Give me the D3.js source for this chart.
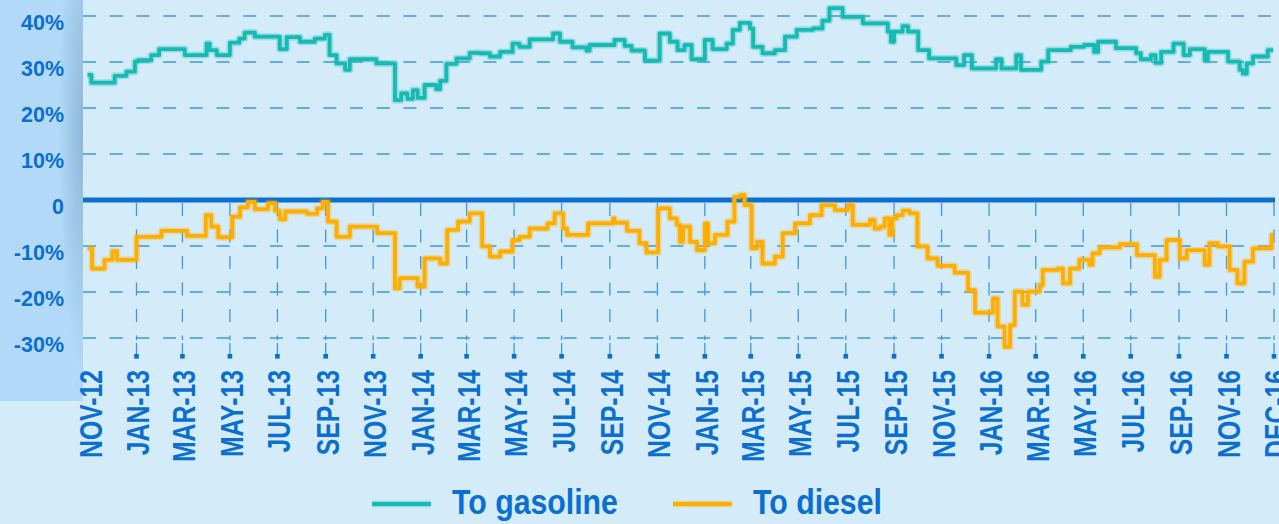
<!DOCTYPE html>
<html>
<head>
<meta charset="utf-8"/>
<script src="https://d3js.org/d3.v7.min.js"></script>
<style>
body { margin: 0; background: #d4ebfa; overflow: hidden; }
text { font-family: "Liberation Sans Narrow", "Liberation Sans", Arial, sans-serif; font-weight: bold; fill: #0a6fd0; }
</style>
</head>
<body>
<div id="v"></div>
<script type="text/javascript">
// ---- data (% spread) ----
var yTicks = [40, 30, 20, 10, 0, -10, -20, -30];
var yTickLabels = ["40%", "30%", "20%", "10%", "0", "-10%", "-20%", "-30%"];

var xTickDates = ["2012-11-01", "2013-01-01", "2013-03-01", "2013-05-01", "2013-07-01", "2013-09-01",
  "2013-11-01", "2014-01-01", "2014-03-01", "2014-05-01", "2014-07-01", "2014-09-01",
  "2014-11-01", "2015-01-01", "2015-03-01", "2015-05-01", "2015-07-01", "2015-09-01",
  "2015-11-01", "2016-01-01", "2016-03-01", "2016-05-01", "2016-07-01", "2016-09-01",
  "2016-11-01", "2017-01-01"];
var xTickLabels = ["NOV-12", "JAN-13", "MAR-13", "MAY-13", "JUL-13", "SEP-13",
  "NOV-13", "JAN-14", "MAR-14", "MAY-14", "JUL-14", "SEP-14",
  "NOV-14", "JAN-15", "MAR-15", "MAY-15", "JUL-15", "SEP-15",
  "NOV-15", "JAN-16", "MAR-16", "MAY-16", "JUL-16", "SEP-16",
  "NOV-16", "DEC-16"];

var seriesNames = ["To gasoline", "To diesel"];
var seriesColors = ["#17bab3", "#ffae00"];

var gasoline = [
  ["2012-10-30", 27.2], ["2012-11-04", 25.5], ["2012-12-04", 27.0], ["2012-12-19", 27.9],
  ["2012-12-30", 30.1], ["2013-01-03", 30.4], ["2013-01-20", 31.5], ["2013-01-30", 32.8],
  ["2013-03-04", 31.5], ["2013-04-01", 34.0], ["2013-04-05", 32.6], ["2013-04-14", 31.5],
  ["2013-05-01", 34.2], ["2013-05-13", 35.1], ["2013-05-20", 36.4], ["2013-06-02", 35.5],
  ["2013-07-04", 32.8], ["2013-07-13", 35.4], ["2013-07-30", 34.4], ["2013-08-18", 35.1],
  ["2013-08-31", 35.9], ["2013-09-06", 31.5], ["2013-09-15", 29.7], ["2013-09-26", 28.3],
  ["2013-10-02", 30.6], ["2013-11-05", 29.7], ["2013-11-29", 21.7], ["2013-12-07", 23.2],
  ["2013-12-15", 22.0], ["2013-12-22", 23.9], ["2013-12-28", 22.2], ["2014-01-06", 25.0],
  ["2014-01-21", 24.1], ["2014-01-26", 25.9], ["2014-02-03", 29.6], ["2014-02-16", 30.8],
  ["2014-03-05", 32.0], ["2014-03-18", 31.9], ["2014-03-31", 31.2], ["2014-04-13", 32.2],
  ["2014-04-29", 34.0], ["2014-05-08", 33.3], ["2014-05-21", 34.9], ["2014-06-20", 36.2],
  ["2014-06-29", 34.4], ["2014-07-15", 33.2], ["2014-08-02", 32.5], ["2014-08-06", 33.7],
  ["2014-09-07", 34.8], ["2014-09-20", 33.5], ["2014-09-29", 32.5], ["2014-10-16", 30.3],
  ["2014-11-04", 36.2], ["2014-11-17", 34.4], ["2014-11-27", 32.6], ["2014-12-06", 33.7],
  ["2014-12-15", 30.6], ["2015-01-01", 34.8], ["2015-01-11", 32.8], ["2015-01-29", 34.0],
  ["2015-02-06", 37.0], ["2015-02-15", 38.5], ["2015-02-28", 37.3], ["2015-03-04", 33.3],
  ["2015-03-16", 31.9], ["2015-04-01", 32.6], ["2015-04-14", 35.5], ["2015-04-29", 37.0],
  ["2015-05-20", 37.3], ["2015-06-01", 39.0], ["2015-06-10", 41.7], ["2015-06-27", 39.8],
  ["2015-07-23", 38.4], ["2015-08-24", 36.6], ["2015-08-28", 34.4], ["2015-09-01", 36.6],
  ["2015-09-12", 37.8], ["2015-09-19", 36.6], ["2015-10-02", 32.6], ["2015-10-16", 30.8],
  ["2015-11-20", 29.3], ["2015-11-30", 31.5], ["2015-12-10", 28.6], ["2016-01-10", 30.6],
  ["2016-01-17", 28.6], ["2016-02-05", 31.5], ["2016-02-11", 28.3], ["2016-03-08", 30.1],
  ["2016-03-17", 32.6], ["2016-04-15", 33.3], ["2016-05-02", 33.7], ["2016-05-15", 32.2],
  ["2016-05-20", 34.4], ["2016-06-12", 33.0], ["2016-07-08", 31.9], ["2016-07-14", 30.6],
  ["2016-07-27", 31.5], ["2016-08-02", 29.8], ["2016-08-09", 32.2], ["2016-08-25", 34.0],
  ["2016-09-07", 31.5], ["2016-09-15", 32.8], ["2016-10-04", 30.4], ["2016-10-08", 32.2],
  ["2016-11-03", 30.1], ["2016-11-18", 28.3], ["2016-11-22", 27.5], ["2016-11-27", 29.7],
  ["2016-12-05", 31.2], ["2016-12-24", 32.6], ["2016-12-31", 32.6]
];

var diesel = [
  ["2012-10-30", -10.5], ["2012-11-05", -14.9], ["2012-11-21", -13.0], ["2012-12-01", -11.1],
  ["2012-12-07", -13.0], ["2013-01-01", -8.0], ["2013-02-02", -6.7], ["2013-03-07", -7.8],
  ["2013-03-31", -3.3], ["2013-04-07", -5.8], ["2013-04-16", -8.1], ["2013-05-04", -3.6],
  ["2013-05-14", -1.6], ["2013-05-24", -0.4], ["2013-06-02", -2.0], ["2013-06-19", -0.7],
  ["2013-06-28", -2.3], ["2013-07-04", -4.2], ["2013-07-11", -2.5], ["2013-08-08", -3.0],
  ["2013-08-21", -1.8], ["2013-08-28", -0.4], ["2013-09-04", -4.7], ["2013-09-15", -8.0],
  ["2013-10-02", -5.8], ["2013-11-06", -7.2], ["2013-11-29", -19.2], ["2013-12-05", -17.0],
  ["2013-12-28", -18.8], ["2014-01-06", -12.7], ["2014-01-26", -13.8], ["2014-02-04", -6.5],
  ["2014-02-18", -4.7], ["2014-03-05", -2.9], ["2014-03-21", -10.1], ["2014-03-31", -12.3],
  ["2014-04-13", -11.2], ["2014-04-29", -8.7], ["2014-05-08", -8.0], ["2014-05-21", -6.2],
  ["2014-06-13", -5.1], ["2014-06-22", -2.9], ["2014-07-03", -6.2], ["2014-07-08", -7.6],
  ["2014-08-04", -5.1], ["2014-09-05", -4.0], ["2014-09-07", -4.9], ["2014-09-23", -6.7],
  ["2014-10-09", -9.4], ["2014-10-18", -11.4], ["2014-11-02", -1.8], ["2014-11-17", -4.0],
  ["2014-11-26", -5.4], ["2014-11-30", -9.1], ["2014-12-04", -5.8], ["2014-12-13", -9.1],
  ["2014-12-22", -10.9], ["2015-01-01", -5.1], ["2015-01-05", -9.4], ["2015-01-14", -7.6],
  ["2015-01-30", -4.7], ["2015-02-08", 0.7], ["2015-02-15", 1.1], ["2015-02-21", -1.1],
  ["2015-03-02", -10.5], ["2015-03-09", -9.1], ["2015-03-16", -13.8], ["2015-04-01", -12.3],
  ["2015-04-11", -7.2], ["2015-04-27", -5.1], ["2015-05-16", -3.3], ["2015-05-31", -1.1],
  ["2015-06-17", -2.2], ["2015-07-04", -1.1], ["2015-07-10", -5.4], ["2015-08-01", -4.3],
  ["2015-08-07", -6.2], ["2015-08-14", -5.8], ["2015-08-20", -4.0], ["2015-08-26", -7.6],
  ["2015-08-30", -4.0], ["2015-09-04", -3.3], ["2015-09-12", -2.3], ["2015-09-21", -2.9],
  ["2015-10-01", -10.1], ["2015-10-14", -12.7], ["2015-10-27", -14.3], ["2015-11-18", -15.8],
  ["2015-12-05", -19.6], ["2015-12-14", -24.5], ["2016-01-06", -21.4], ["2016-01-12", -27.5],
  ["2016-01-21", -31.9], ["2016-01-28", -27.2], ["2016-02-03", -19.9], ["2016-02-13", -22.8],
  ["2016-02-20", -19.9], ["2016-03-06", -18.5], ["2016-03-10", -15.2], ["2016-03-29", -14.9],
  ["2016-04-05", -18.1], ["2016-04-14", -14.9], ["2016-04-26", -13.0], ["2016-05-09", -14.1],
  ["2016-05-13", -11.6], ["2016-05-22", -10.3], ["2016-06-17", -9.6], ["2016-07-09", -12.0],
  ["2016-08-01", -16.7], ["2016-08-07", -13.0], ["2016-08-16", -8.7], ["2016-09-02", -12.7],
  ["2016-09-11", -10.9], ["2016-10-04", -14.1], ["2016-10-10", -9.4], ["2016-10-21", -10.1],
  ["2016-11-05", -15.2], ["2016-11-15", -18.1], ["2016-11-24", -13.4], ["2016-12-05", -10.5],
  ["2016-12-29", -7.6], ["2016-12-31", -7.6]
];

(function() {
  var width = 1279, height = 524;
  var left = 83, right = 1275, top = 0;
  var parse = d3.utcParse("%Y-%m-%d");

  var x = d3.scaleUtc()
    .domain([parse("2012-11-01"), parse("2017-01-01")])
    .range([89, 1274]);
  var y = d3.scaleLinear()
    .domain([0, 40])
    .range([200, 16]);

  var svg = d3.select("#v").append("svg")
    .attr("width", width)
    .attr("height", height);

  var defs = svg.append("defs");
  var rg = defs.append("radialGradient").attr("id", "shade")
    .attr("cx", 1).attr("cy", 0.33).attr("r", 0.6)
    .attr("gradientTransform", "translate(0.5,0) scale(0.5,1) translate(0,0)");
  rg.append("stop").attr("offset", 0).attr("stop-color", "#6f9cc0").attr("stop-opacity", 0.55);
  rg.append("stop").attr("offset", 1).attr("stop-color", "#6f9cc0").attr("stop-opacity", 0);
  defs.append("clipPath").attr("id", "plotclip")
    .append("rect").attr("x", left).attr("y", top).attr("width", right - left).attr("height", 400);

  // left label panel
  svg.append("rect").attr("x", 0).attr("y", 0).attr("width", left).attr("height", 401).attr("fill", "#b2d9f7");
  svg.append("rect").attr("x", 0).attr("y", 0).attr("width", left).attr("height", 401).attr("fill", "url(#shade)");

  // horizontal grid
  svg.append("g").selectAll("line")
    .data(yTicks.filter(function(d) { return d !== 0; })).enter()
    .append("line")
    .attr("x1", left).attr("x2", right)
    .attr("y1", function(d) { return y(d); }).attr("y2", function(d) { return y(d); })
    .attr("stroke", "#3f96e4").attr("stroke-width", 1.3)
    .attr("stroke-dasharray", "13,13.7");

  // vertical tick lines with square ends
  var ticks = svg.append("g").selectAll("g")
    .data(xTickDates.slice(1)).enter()
    .append("g");
  ticks.append("line")
    .attr("x1", function(d) { return x(parse(d)); }).attr("x2", function(d) { return x(parse(d)); })
    .attr("y1", 203).attr("y2", 340)
    .attr("stroke", "#3f96e4").attr("stroke-width", 1.3)
    .attr("stroke-dasharray", "13,13.5");
  ticks.append("line")
    .attr("x1", function(d) { return x(parse(d)); }).attr("x2", function(d) { return x(parse(d)); })
    .attr("y1", 343).attr("y2", 355)
    .attr("stroke", "#3f96e4").attr("stroke-width", 1.3);
  ticks.append("rect")
    .attr("x", function(d) { return x(parse(d)) - 2.3; })
    .attr("y", 354).attr("width", 4.6).attr("height", 4.6)
    .attr("fill", "#0a6fd0");

  // zero line
  svg.append("line")
    .attr("x1", left).attr("x2", right)
    .attr("y1", y(0)).attr("y2", y(0))
    .attr("stroke", "#0a6fd0").attr("stroke-width", 5);

  // series
  var line = d3.line()
    .x(function(d) { return x(parse(d[0])); })
    .y(function(d) { return y(d[1]); })
    .curve(d3.curveStepAfter);
  var plot = svg.append("g").attr("clip-path", "url(#plotclip)");
  [gasoline, diesel].forEach(function(s, i) {
    plot.append("path").datum(s).attr("d", line)
      .attr("fill", "none").attr("stroke", seriesColors[i]).attr("stroke-opacity", 0.3)
      .attr("stroke-width", 7).attr("stroke-linejoin", "round");
    plot.append("path").datum(s).attr("d", line)
      .attr("fill", "none").attr("stroke", seriesColors[i])
      .attr("stroke-width", 3.8).attr("stroke-linejoin", "round");
  });

  // fit a text group so that a reference string has a given length
  function fitScale(size, sample, target) {
    var t = svg.append("text").style("font-size", size + "px").text(sample);
    var w = t.node().getComputedTextLength();
    t.remove();
    return target / w;
  }

  // y labels
  var sy = fitScale(22, "40%", 43);
  svg.append("g").selectAll("text")
    .data(yTicks).enter()
    .append("text")
    .attr("transform", function(d) { return "translate(64," + (y(d) + 13.5) + ") scale(" + sy + ",1)"; })
    .attr("text-anchor", "end")
    .style("font-size", "22px")
    .text(function(d, i) { return yTickLabels[i]; });

  // x labels
  var sx = fitScale(32, "NOV-12", 88);
  svg.append("g").selectAll("text")
    .data(xTickDates).enter()
    .append("text")
    .attr("transform", function(d) { return "translate(" + (x(parse(d)) + 13) + ",370) rotate(-90) scale(" + sx + ",1)"; })
    .attr("text-anchor", "end")
    .style("font-size", "32px")
    .text(function(d, i) { return xTickLabels[i]; });

  // legend
  var sl = fitScale(36, "To gasoline", 166);
  var legX = [372, 673];
  var leg = svg.append("g").selectAll("g")
    .data(seriesNames).enter()
    .append("g")
    .attr("transform", function(d, i) { return "translate(" + legX[i] + ",504)"; });
  leg.append("line").attr("x1", 0).attr("x2", 59).attr("y1", 0).attr("y2", 0)
    .attr("stroke", function(d, i) { return seriesColors[i]; }).attr("stroke-opacity", 0.3).attr("stroke-width", 7);
  leg.append("line").attr("x1", 0).attr("x2", 59).attr("y1", 0).attr("y2", 0)
    .attr("stroke", function(d, i) { return seriesColors[i]; }).attr("stroke-width", 4);
  leg.append("text")
    .attr("transform", "translate(80,10) scale(" + sl + ",1)")
    .style("font-size", "36px")
    .text(function(d) { return d; });
})();
</script>
</body>
</html>
